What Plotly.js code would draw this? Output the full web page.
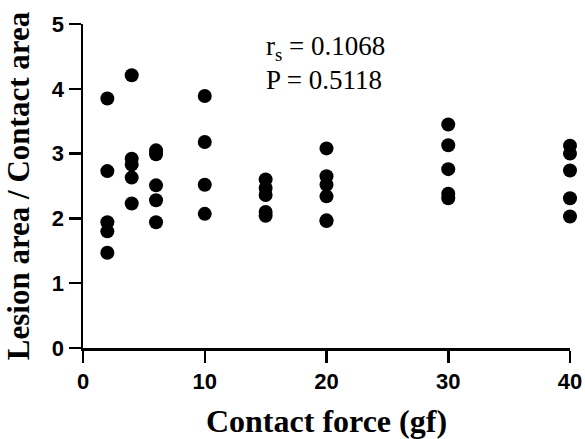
<!DOCTYPE html>
<html>
<head>
<meta charset="utf-8">
<script src="https://cdn.plot.ly/plotly-3.0.1.min.js"></script>
<style>html,body{margin:0;padding:0;background:#fff;}#chart{width:585px;height:439px;}</style>
</head>
<body>
<div id="chart"></div>
<script>
// Contact force groups (gf)
const forces = [2, 4, 6, 10, 15, 20, 30, 40];
// Lesion area / Contact area ratios per force group
const ratio_2  = [3.85, 2.73, 1.94, 1.80, 1.47];
const ratio_4  = [4.21, 2.92, 2.83, 2.63, 2.23];
const ratio_6  = [3.05, 2.99, 2.51, 2.28, 1.94];
const ratio_10 = [3.89, 3.18, 2.52, 2.07];
const ratio_15 = [2.60, 2.47, 2.36, 2.10, 2.04];
const ratio_20 = [3.08, 2.65, 2.52, 2.34, 1.97, 1.96];
const ratio_30 = [3.45, 3.13, 2.76, 2.38, 2.31];
const ratio_40 = [3.12, 3.00, 2.74, 2.31, 2.03];
const xTicks = [0, 10, 20, 30, 40];
const yTicks = [0, 1, 2, 3, 4, 5];

const groups = [ratio_2, ratio_4, ratio_6, ratio_10, ratio_15, ratio_20, ratio_30, ratio_40];
const xs = [], ys = [];
groups.forEach((g, i) => g.forEach(v => { xs.push(forces[i]); ys.push(v); }));

const trace = {
  x: xs, y: ys, type: 'scatter', mode: 'markers',
  marker: {color: '#000', size: 14},
  cliponaxis: false, hoverinfo: 'none'
};

const tickFont = {family: 'Liberation Sans, Arial, sans-serif', size: 22, color: '#000', weight: 'bold'};
const serif = 'Liberation Serif, Times New Roman, serif';

const layout = {
  width: 585, height: 439,
  margin: {l: 83, r: 15, t: 24, b: 91},
  paper_bgcolor: '#fff', plot_bgcolor: '#fff',
  showlegend: false,
  xaxis: {
    range: [0, 40], tickvals: xTicks, ticktext: xTicks.map(String),
    showgrid: false, zeroline: false, showline: true, linecolor: '#000', linewidth: 2.5,
    ticks: 'outside', ticklen: 12, tickwidth: 2.5, tickcolor: '#000',
    tickfont: tickFont,
    title: {text: 'Contact force (gf)', font: {family: serif, size: 32, color: '#000', weight: 'bold'}, standoff: 18}
  },
  yaxis: {
    range: [0, 5], tickvals: yTicks, ticktext: yTicks.map(String),
    showgrid: false, zeroline: false, showline: true, linecolor: '#000', linewidth: 2.5,
    ticks: 'outside', ticklen: 12, tickwidth: 2.5, tickcolor: '#000',
    tickfont: tickFont,
    title: {text: 'Lesion area / Contact area', font: {family: serif, size: 31, color: '#000', weight: 'bold'}, standoff: 13}
  },
  annotations: [
    {xref: 'paper', yref: 'paper', x: 0.372, y: 0.926, xanchor: 'left', yanchor: 'middle',
     text: 'r<sub>s</sub> = 0.1068', showarrow: false,
     font: {family: serif, size: 27, color: '#000'}},
    {xref: 'paper', yref: 'paper', x: 0.372, y: 0.827, xanchor: 'left', yanchor: 'middle',
     text: 'P = 0.5118', showarrow: false,
     font: {family: serif, size: 27, color: '#000'}}
  ]
};

Plotly.newPlot('chart', [trace], layout, {displayModeBar: false, staticPlot: true});
</script>
</body>
</html>
